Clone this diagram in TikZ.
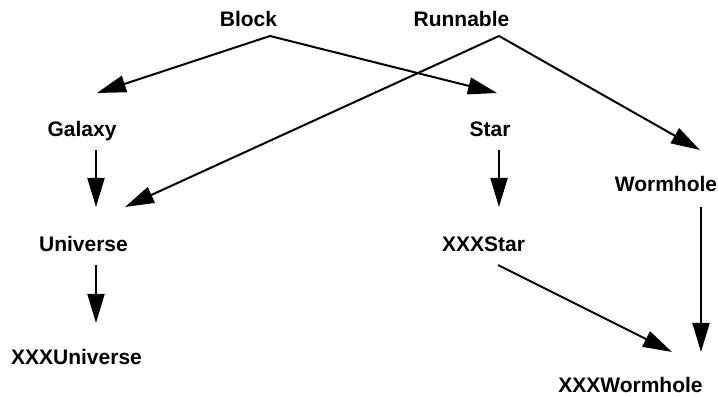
\documentclass[tikz,border=0pt]{standalone}
\usepackage{fontspec}
\setmainfont{Liberation Sans}
\usetikzlibrary{arrows.meta}
\begin{document}
\begin{tikzpicture}[x=1pt,y=1pt,
  lbl/.style={anchor=base,inner sep=0pt,font=\fontsize{21}{24}\selectfont\bfseries},
  arr/.style={line width=2pt,-{Triangle[length=29pt,width=17pt]}}]
\useasboundingbox (0,0) rectangle (718,396);
\node[lbl] (Block) at (248.5,369) {Block};
\node[lbl] (Runnable) at (461.5,369) {Runnable};
\node[lbl] (Galaxy) at (82,259) {Galaxy};
\node[lbl] (Star) at (490,259) {Star};
\node[lbl] (Wormhole) at (666,204) {Wormhole};
\node[lbl] (Universe) at (83.5,144) {Universe};
\node[lbl] (XXXStar) at (483.5,144) {XXXStar};
\node[lbl] (XXXUniverse) at (76.5,31) {XXXUniverse};
\node[lbl] (XXXWormhole) at (630.5,3) {XXXWormhole};

\draw[arr] ([shift={(21.5,-9)}]Block.base) -- ([shift={(15,44)}]Galaxy.base);
\draw[arr] ([shift={(21.5,-9)}]Block.base) -- ([shift={(7,44)}]Star.base);
\draw[arr] ([shift={(37.5,-9)}]Runnable.base) -- ([shift={(41.5,45)}]Universe.base);
\draw[arr] ([shift={(37.5,-9)}]Runnable.base) -- ([shift={(34,42)}]Wormhole.base);
\draw[arr] ([shift={(14,-13)}]Galaxy.base) -- ([shift={(12.5,45)}]Universe.base);
\draw[arr] ([shift={(9,-13)}]Star.base) -- ([shift={(15.5,45)}]XXXStar.base);
\draw[arr] ([shift={(12.5,-13)}]Universe.base) -- ([shift={(19.5,42)}]XXXUniverse.base);
\draw[arr] ([shift={(14.5,-13)}]XXXStar.base) -- ([shift={(41.5,41)}]XXXWormhole.base);
\draw[arr] ([shift={(35,-15)}]Wormhole.base) -- ([shift={(70.5,41)}]XXXWormhole.base);
\end{tikzpicture}
\end{document}
